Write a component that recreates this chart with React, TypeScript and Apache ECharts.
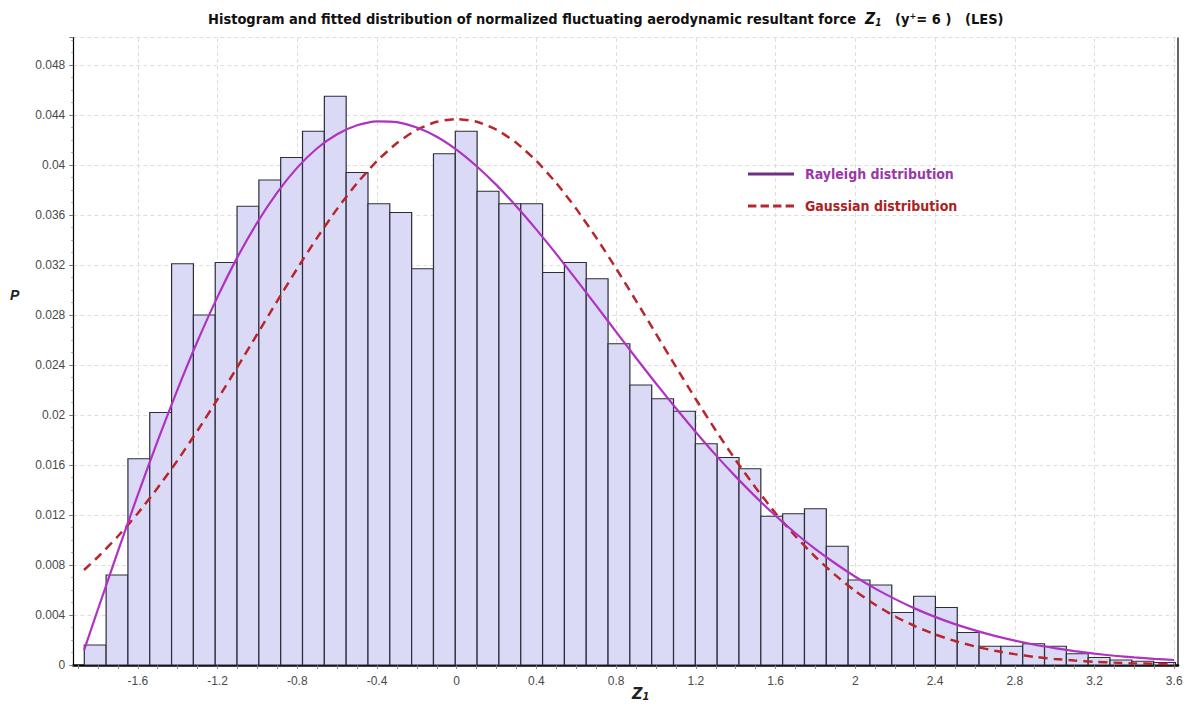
import React, { useEffect, useRef } from "react";
import * as echarts from "echarts";

// Histogram: 50 bins, probability per bin
const binStart = -1.8686;
const binWidth = 0.1095;
const histogramP = [
  0.0016, 0.0072, 0.0165, 0.0202, 0.0321, 0.028, 0.0322, 0.0367, 0.0388, 0.0406,
  0.0427, 0.0455, 0.0394, 0.0369, 0.0362, 0.0317, 0.0409, 0.0427, 0.0379, 0.0369,
  0.0369, 0.0314, 0.0322, 0.0309, 0.0257, 0.0224, 0.0213, 0.0203, 0.0177, 0.0166,
  0.0157, 0.0119, 0.0121, 0.0125, 0.0095, 0.0068, 0.0064, 0.0042, 0.0055, 0.0046,
  0.0026, 0.0015, 0.0015, 0.0017, 0.0015, 0.0009, 0.0006, 0.0004, 0.0003, 0.0002,
];

// Fitted curves
const curveX = [
  -1.87, -1.8, -1.7, -1.6, -1.5, -1.4, -1.3, -1.2, -1.1, -1.0, -0.9, -0.8, -0.7, -0.6,
  -0.5, -0.4, -0.3, -0.2, -0.1, 0, 0.1, 0.2, 0.3, 0.4, 0.5, 0.6, 0.7, 0.8, 0.9, 1.0,
  1.1, 1.2, 1.3, 1.4, 1.5, 1.6, 1.7, 1.8, 1.9, 2.0, 2.1, 2.2, 2.3, 2.4, 2.5, 2.6, 2.7,
  2.8, 2.9, 3.0, 3.1, 3.2, 3.3, 3.4, 3.5, 3.6,
];
const rayleighP = [
  0.00117, 0.00446, 0.00909, 0.01361, 0.01795, 0.02207, 0.02592, 0.02945, 0.03263, 0.03542,
  0.03781, 0.03979, 0.04134, 0.04246, 0.04318, 0.04349, 0.04343, 0.043, 0.04226, 0.04121,
  0.0399, 0.03839, 0.03668, 0.03483, 0.03287, 0.03083, 0.02875, 0.02665, 0.02456, 0.02252,
  0.02054, 0.01862, 0.01679, 0.01507, 0.01345, 0.01194, 0.01054, 0.00927, 0.00812, 0.00706,
  0.00611, 0.00527, 0.00451, 0.00385, 0.00327, 0.00277, 0.00233, 0.00195, 0.00162, 0.00135,
  0.00111, 0.00091, 0.00074, 0.00061, 0.00049, 0.0004,
];
const gaussianP = [
  0.0076, 0.00864, 0.0103, 0.01214, 0.01418, 0.01639, 0.01876, 0.02126, 0.02385, 0.02649,
  0.02913, 0.03172, 0.03419, 0.03649, 0.03855, 0.04032, 0.04176, 0.04282, 0.04346, 0.04368,
  0.04346, 0.04282, 0.04176, 0.04032, 0.03855, 0.03649, 0.03419, 0.03172, 0.02913, 0.02649,
  0.02385, 0.02126, 0.01876, 0.01639, 0.01418, 0.01214, 0.0103, 0.00864, 0.00719, 0.00591,
  0.00482, 0.00388, 0.0031, 0.00245, 0.00192, 0.00149, 0.00114, 0.00087, 0.00065, 0.00048,
  0.00036, 0.00026, 0.00019, 0.00013, 0.0001, 0.00007,
];

const xTickLabels = [-1.6, -1.2, -0.8, -0.4, 0, 0.4, 0.8, 1.2, 1.6, 2, 2.4, 2.8, 3.2, 3.6];
const yTickLabels = [0, 0.004, 0.008, 0.012, 0.016, 0.02, 0.024, 0.028, 0.032, 0.036, 0.04, 0.044, 0.048];

const seriesNames = ["Rayleigh distribution", "Gaussian distribution"];

const NARROW = "'Liberation Sans Narrow', 'DejaVu Sans Condensed', 'Liberation Sans', sans-serif";
const LABEL_FONT = "'Liberation Sans', Arial, sans-serif";

export default function App() {
  const ref = useRef<HTMLDivElement>(null);

  useEffect(() => {
    if (!ref.current) return;
    const chart = echarts.init(ref.current, null, { renderer: "svg" });

    const xMin = -1.9237;
    const xMax = 3.619;
    const yMax = 0.0502;

    const minorTicks: number[] = [];
    for (let k = -19; k <= 36; k++) minorTicks.push(k / 10);

    const bars = histogramP.map((p, i) => [
      binStart + i * binWidth,
      binStart + (i + 1) * binWidth,
      p,
    ]);

    const option: any = {
      animation: false,
      backgroundColor: "#ffffff",
      title: {
        left: 203,
        top: 6,
        text:
          "{t|Histogram and fitted distribution of normalized fluctuating aerodynamic resultant force  }{z|Z}{s|1}{t|   (y}{p|+}{t|= 6 )   (LES)}",
        textStyle: {
          rich: {
            t: { fontFamily: NARROW, fontWeight: "bold", fontSize: 14.5, color: "#111" },
            z: { fontFamily: NARROW, fontWeight: "bold", fontStyle: "italic", fontSize: 15.5, color: "#111" },
            s: { fontFamily: NARROW, fontWeight: "bold", fontStyle: "italic", fontSize: 10, color: "#111", verticalAlign: "bottom", padding: [6, 0, 0, 0] },
            p: { fontFamily: NARROW, fontWeight: "bold", fontSize: 9, color: "#111", verticalAlign: "top", padding: [0, 0, 6, 0] },
          },
        },
      },
      legend: {
        orient: "vertical",
        left: 743,
        top: 162,
        itemWidth: 46,
        itemHeight: 14,
        itemGap: 18,
        selectedMode: false,
        textStyle: { fontFamily: NARROW, fontWeight: "bold", fontSize: 14, padding: [0, 0, 0, 6] },
        data: [
          {
            name: seriesNames[0],
            icon: "path://M0,0 L46,0 L46,3 L0,3 Z",
            itemStyle: { color: "#6f2f82" },
            textStyle: { color: "#9a38aa" },
          },
          {
            name: seriesNames[1],
            icon: "path://M0,0 L8,0 L8,3 L0,3 Z M12,0 L20,0 L20,3 L12,3 Z M24,0 L32,0 L32,3 L24,3 Z M36,0 L44,0 L44,3 L36,3 Z",
            itemStyle: { color: "#b8262b" },
            textStyle: { color: "#ae2222" },
          },
        ],
      },
      grid: { left: 73.3, right: 10, top: 37.5, bottom: 44, containLabel: false },
      xAxis: {
        type: "value",
        min: xMin,
        max: xMax,
        axisLine: { show: true, onZero: false, lineStyle: { color: "#000", width: 2.5 } },
        axisTick: { show: true, customValues: minorTicks, length: 4, lineStyle: { color: "#888" } },
        axisLabel: {
          customValues: xTickLabels,
          formatter: (v: number) => String(v),
          margin: 10,
          fontSize: 12,
          color: "#4a4a4a",
          fontFamily: LABEL_FONT,
        },
        splitLine: { show: false },
      },
      yAxis: {
        type: "value",
        min: 0,
        max: yMax,
        interval: 0.004,
        axisLine: { show: true, onZero: false, lineStyle: { color: "#000", width: 1.2 } },
        axisTick: { show: true, length: 4, lineStyle: { color: "#777" } },
        minorTick: { show: true, splitNumber: 4, length: 2, lineStyle: { color: "#999" } },
        axisLabel: {
          customValues: yTickLabels,
          formatter: (v: number) => String(Number(v.toFixed(3))),
          margin: 8,
          fontSize: 12,
          color: "#4a4a4a",
          fontFamily: LABEL_FONT,
        },
        splitLine: { show: true, lineStyle: { color: "#dedede", type: [4, 3], width: 1 } },
      },
      graphic: [
        {
          type: "line",
          shape: { x1: 1178, y1: 37.5, x2: 1178, y2: 665 },
          style: { stroke: "#333", lineWidth: 1.5 },
          silent: true,
        },
        {
          type: "text",
          left: 10,
          top: 288,
          style: {
            text: "P",
            font: "italic bold 14px 'Liberation Sans', Arial, sans-serif",
            fill: "#222",
          },
        },
        {
          type: "text",
          left: 632,
          top: 685,
          style: {
            text: "{z|Z}{s|1}",
            rich: {
              z: { fontFamily: NARROW, fontStyle: "italic", fontWeight: "bold", fontSize: 16, fill: "#222" },
              s: { fontFamily: NARROW, fontStyle: "italic", fontWeight: "bold", fontSize: 11, fill: "#222", verticalAlign: "bottom", padding: [7, 0, 0, 0] },
            },
          },
        },
      ],
      series: [
        {
          name: "grid-x",
          type: "line",
          data: [],
          silent: true,
          z: 0,
          markLine: {
            silent: true,
            z: 0,
            symbol: "none",
            label: { show: false },
            lineStyle: { color: "#dedede", type: [4, 3], width: 1 },
            data: xTickLabels.map((v) => ({ xAxis: v })),
          },
        },
        {
          name: "histogram",
          type: "custom",
          z: 2,
          data: bars,
          encode: { x: [0, 1], y: 2 },
          renderItem: (params: any, api: any) => {
            const x0 = api.value(0);
            const x1 = api.value(1);
            const p = api.value(2);
            const a = api.coord([x0, p]);
            const b = api.coord([x1, 0]);
            return {
              type: "rect",
              shape: { x: a[0], y: a[1], width: b[0] - a[0], height: b[1] - a[1] },
              style: { fill: "#dadaf7", stroke: "#2c2c3a", lineWidth: 1.2 },
            };
          },
        },
        {
          name: seriesNames[0],
          type: "line",
          z: 4,
          symbol: "none",
          smooth: 0.2,
          data: curveX.map((x, i) => [x, rayleighP[i]]),
          lineStyle: { color: "#b032c2", width: 2.2 },
          itemStyle: { color: "#6f2f82" },
        },
        {
          name: seriesNames[1],
          type: "line",
          z: 3,
          symbol: "none",
          smooth: 0.2,
          data: curveX.map((x, i) => [x, gaussianP[i]]),
          lineStyle: { color: "#b8262b", width: 2.5, type: [9, 6] },
          itemStyle: { color: "#b8262b" },
        },
      ],
    };

    chart.setOption(option);
    return () => chart.dispose();
  }, []);

  return (
    <div
      ref={ref}
      style={{ position: "absolute", left: 0, top: 0, width: 1188, height: 709, background: "#fff" }}
    />
  );
}
